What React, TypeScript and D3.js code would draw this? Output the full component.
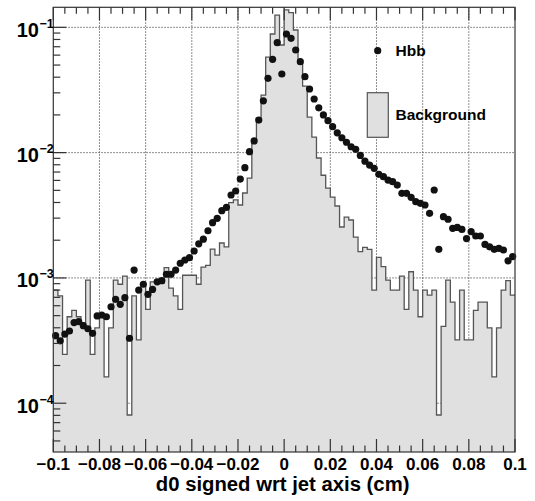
import React from "react";
import * as d3 from "d3";

const xMin = -0.1;
const xMax = 0.1;
const binCount = 100;

// Background histogram contents (one per bin of width 0.002)
const bkgValues = [
  8.0e-4, 7.2e-4, 2.45e-4, 4.9e-4, 5.5e-4, 4.9e-4, 4.4e-4, 9.6e-4, 2.45e-4, 4.0e-4,
  4.9e-4, 1.62e-4, 4.0e-4, 9.6e-4, 8.9e-4, 1.035e-3, 8.05e-5, 7.2e-4, 3.2e-4, 8.9e-4,
  5.6e-4, 9.3e-4, 9.6e-4, 9.1e-4, 1.21e-3, 8.3e-4, 7.2e-4, 5.6e-4, 1.05e-3, 1.05e-3,
  1.05e-3, 8.9e-4, 1.22e-3, 1.26e-3, 1.7e-3, 1.52e-3, 1.9e-3, 1.77e-3, 3.99e-3, 4.19e-3,
  3.82e-3, 4.76e-3, 6.27e-3, 0.01262, 0.01888, 0.0288, 0.0579, 0.0885, 0.125, 0.0723,
  0.138, 0.131, 0.0952, 0.0519, 0.034, 0.0192, 0.0133, 0.00906, 0.0066, 0.00521,
  0.00442, 0.00375, 0.00255, 0.00306, 0.0029, 0.00212, 0.00162, 0.00175, 0.00169, 8.0e-4,
  1.46e-3, 1.23e-3, 9.6e-4, 8.0e-4, 8.0e-4, 1.035e-3, 5.6e-4, 1.12e-3, 8.0e-4, 4.9e-4,
  8.0e-4, 7.3e-4, 8.0e-4, 8.05e-5, 4.1e-4, 9.6e-4, 6.4e-4, 3.2e-4, 8.0e-4, 3.2e-4,
  3.2e-4, 5.5e-4, 6.4e-4, 6.4e-4, 4.0e-4, 1.62e-4, 4.0e-4, 8.0e-4, 9.5e-4, 7.3e-4,
];

// Hbb points (bin centres)
const hbbValues = [
  3.46e-4, 3.15e-4, 3.56e-4, 3.77e-4, 4.4e-4, 4.48e-4, 4.16e-4, 3.93e-4, 3.61e-4, 4.97e-4,
  5.06e-4, 4.9e-4, 5.89e-4, 6.75e-4, 6.15e-4, 6.95e-4, 3.3e-4, 1.156e-3, 8.0e-4, 8.9e-4,
  7.4e-4, 8.1e-4, 9.3e-4, 9.5e-4, 1.07e-3, 1.07e-3, 1.156e-3, 1.31e-3, 1.39e-3, 1.45e-3,
  1.64e-3, 1.87e-3, 2.04e-3, 2.38e-3, 2.76e-3, 2.99e-3, 3.44e-3, 3.66e-3, 4.59e-3, 4.94e-3,
  6.15e-3, 7.59e-3, 0.01017, 0.0124, 0.0182, 0.0259, 0.0392, 0.0555, 0.0754, 0.0424,
  0.0885, 0.0817, 0.0659, 0.0532, 0.0404, 0.0322, 0.0268, 0.0228, 0.02, 0.018,
  0.0161, 0.0144, 0.01315, 0.0121, 0.01114, 0.01062, 0.0095, 0.00855, 0.00796, 0.0075,
  0.00671, 0.00643, 0.00604, 0.00586, 0.00551, 0.00473, 0.00473, 0.0044, 0.00406, 0.00394,
  0.00382, 0.00328, 0.00503, 0.00169, 0.00308, 0.00294, 0.00249, 0.00253, 0.00244, 0.00206,
  0.00234, 0.00216, 0.00216, 0.00185, 0.00177, 0.00169, 0.00172, 0.00167, 0.00137, 0.00148,
];

const xTickValues = [-0.1, -0.08, -0.06, -0.04, -0.02, 0, 0.02, 0.04, 0.06, 0.08, 0.1];
const xTickLabels = ["\u22120.1", "\u22120.08", "\u22120.06", "\u22120.04", "\u22120.02", "0", "0.02", "0.04", "0.06", "0.08", "0.1"];
const yDecades = [-1, -2, -3, -4];
const yTickExpLabels = ["\u22121", "\u22122", "\u22123", "\u22124"];
const legendLabels = ["Hbb", "Background"];
const xTitle = "d0 signed wrt jet axis (cm)";

const FONT = "'Liberation Sans', Arial, Helvetica, sans-serif";

export default function App() {
  const L = 53.3, R = 515, T = 7.3, B = 452;
  const x = d3.scaleLinear().domain([xMin, xMax]).range([L, R]);
  const y = d3.scaleLog().domain([4.08e-5, 0.1445]).range([B, T]);
  const bw = (xMax - xMin) / binCount;

  const pts = bkgValues.map((v, i) => ({ e: xMin + i * bw, v }));
  pts.push({ e: xMax, v: bkgValues[bkgValues.length - 1] });
  const area = d3
    .area<{ e: number; v: number }>()
    .x((d) => x(d.e))
    .y0(B)
    .y1((d) => y(d.v))
    .curve(d3.curveStepAfter);
  const line = d3
    .line<{ e: number; v: number }>()
    .x((d) => x(d.e))
    .y((d) => y(d.v))
    .curve(d3.curveStepAfter);

  const xMinor = d3.range(0, 41).map((k) => xMin + k * 0.005);
  const yMinor: number[] = [];
  for (let e = -5; e <= -1; e++) {
    for (let k = 2; k <= 9; k++) {
      const v = k * Math.pow(10, e);
      if (v >= 4.08e-5 && v <= 0.1445) yMinor.push(v);
    }
  }
  const gridX = xTickValues.slice(1, -1);

  return (
    <div style={{ position: "absolute", left: 0, top: 0 }}>
      <svg width={535} height={501} style={{ display: "block", background: "#fff" }} fontFamily={FONT}>
        <defs>
          <clipPath id="frame">
            <rect x={L} y={T} width={R - L} height={B - T} />
          </clipPath>
        </defs>
        {/* grid */}
        <g stroke="#444" strokeWidth={0.8} strokeDasharray="1.5,1.5">
          {gridX.map((v) => (
            <line key={"gx" + v} x1={x(v)} x2={x(v)} y1={T} y2={B} />
          ))}
          {yDecades.map((e) => (
            <line key={"gy" + e} x1={L} x2={R} y1={y(Math.pow(10, e))} y2={y(Math.pow(10, e))} />
          ))}
        </g>
        {/* histogram */}
        <g clipPath="url(#frame)">
          <path d={area(pts) || ""} fill="#e0e0e0" stroke="none" />
          <path d={line(pts) || ""} fill="none" stroke="#555" strokeWidth={1.3} />
        </g>
        {/* points */}
        <g fill="#111">
          {hbbValues.map((v, i) => (
            <circle key={"p" + i} cx={x(xMin + (i + 0.5) * bw)} cy={y(v)} r={3.6} />
          ))}
        </g>
        {/* frame */}
        <rect x={L} y={T} width={R - L} height={B - T} fill="none" stroke="#333" strokeWidth={1.2} />
        {/* x ticks */}
        <g stroke="#333" strokeWidth={1.2}>
          {xMinor.map((v, i) => {
            const major = i % 4 === 0;
            const len = major ? 13 : 6.5;
            return (
              <g key={"xt" + i}>
                <line x1={x(v)} x2={x(v)} y1={B} y2={B - len} />
                <line x1={x(v)} x2={x(v)} y1={T} y2={T + len} />
              </g>
            );
          })}
          {yDecades.map((e) => (
            <line key={"ym" + e} x1={L} x2={L + 13} y1={y(Math.pow(10, e))} y2={y(Math.pow(10, e))} />
          ))}
          {yMinor.map((v, i) => (
            <line key={"yn" + i} x1={L} x2={L + 7} y1={y(v)} y2={y(v)} />
          ))}
        </g>
        {/* x labels */}
        <g fontWeight="bold" fontSize={17} fill="#000" textAnchor="middle">
          {xTickValues.map((v, i) => (
            <text key={"xl" + i} x={x(v)} y={469.5}>
              {xTickLabels[i]}
            </text>
          ))}
        </g>
        {/* y labels */}
        <g fontWeight="bold" fill="#000">
          {yDecades.map((e, i) => (
            <g key={"yl" + e}>
              <text x={39} y={y(Math.pow(10, e)) + 9.5} fontSize={20} textAnchor="end">
                10
              </text>
              <text x={39.5} y={y(Math.pow(10, e)) + 0.5} fontSize={12.5} textAnchor="start">
                {yTickExpLabels[i]}
              </text>
            </g>
          ))}
        </g>
        {/* axis title */}
        <text x={x(0) - 1.5} y={490.5} fontWeight="bold" fontSize={20.3} textAnchor="middle" fill="#000">
          {xTitle}
        </text>
        {/* legend */}
        <circle cx={377.7} cy={50.7} r={3.6} fill="#111" />
        <text x={395.5} y={56} fontWeight="bold" fontSize={15.5} fill="#000">
          {legendLabels[0]}
        </text>
        <rect x={367.3} y={92.7} width={21} height={44.6} fill="#e0e0e0" stroke="#555" strokeWidth={1.2} />
        <text x={395.5} y={119.5} fontWeight="bold" fontSize={15.5} fill="#000">
          {legendLabels[1]}
        </text>
      </svg>
    </div>
  );
}
